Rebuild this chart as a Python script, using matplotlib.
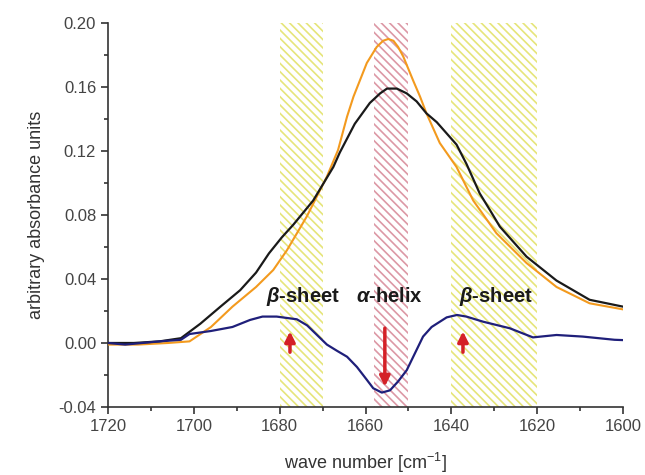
import matplotlib.pyplot as plt
import numpy as np

plt.rcParams['font.family'] = ['Liberation Sans', 'DejaVu Sans']
plt.rcParams['mathtext.fontset'] = 'custom'
plt.rcParams['mathtext.it'] = 'Liberation Sans:italic:bold'
plt.rcParams['mathtext.rm'] = 'Liberation Sans:bold'
plt.rcParams['hatch.linewidth'] = 1.2

# black spectrum
wn_black = [1720, 1714, 1708, 1703, 1698.5, 1693.8, 1689.2, 1685.5, 1682.5, 1679.5, 1676.8,
            1672.2, 1667.5, 1666, 1662.5, 1659, 1656.6, 1655, 1652.7, 1650.4, 1648.1,
            1645.8, 1643.4, 1641.1, 1638.8, 1636.5, 1633.4, 1631, 1628.7, 1622.5,
            1615.5, 1607.8, 1600]
abs_black = [0.0, 0.0, 0.001, 0.003, 0.012, 0.0227, 0.033, 0.044, 0.056, 0.066, 0.074,
             0.089, 0.110, 0.119, 0.137, 0.150, 0.156, 0.159, 0.159, 0.156, 0.151,
             0.1435, 0.138, 0.131, 0.124, 0.112, 0.0935, 0.083, 0.0727, 0.054,
             0.039, 0.027, 0.0227]

# orange spectrum
wn_orange = [1720, 1713, 1706, 1701, 1696, 1691, 1685.5, 1681.5, 1678.3, 1673.7,
             1669, 1666.4, 1664.3, 1662.8, 1659.7, 1657.4, 1655.9, 1654.7, 1653.5,
             1652.4, 1651.2, 1648.9, 1647.3, 1645.8, 1642.7, 1638.8, 1634.9, 1629.5,
             1622.5, 1615.5, 1607.8, 1600]
abs_orange = [-0.001, -0.001, 0.0, 0.001, 0.010, 0.0227, 0.035, 0.0456, 0.058, 0.079,
              0.104, 0.1206, 0.1415, 0.154, 0.175, 0.185, 0.1889, 0.190, 0.1889,
              0.185, 0.179, 0.164, 0.154, 0.1435, 0.125, 0.110, 0.089, 0.0686,
              0.050, 0.035, 0.0248, 0.021]

# difference spectrum (blue)
wn_diff = [1720, 1716, 1708, 1703, 1701, 1696, 1691, 1686.9, 1684, 1680.7, 1676,
           1673.6, 1671.3, 1669, 1666.7, 1664.3, 1662, 1659.7, 1658.2, 1656.2, 1654.3,
           1652.4, 1650.4, 1648.5, 1646.6, 1644.6, 1641.1, 1638.7, 1636.5, 1632.6,
           1626.4, 1621, 1615.5, 1609.4, 1602, 1600]
abs_diff = [0.0, -0.001, 0.001, 0.002, 0.0056, 0.0075, 0.010, 0.0144, 0.0165, 0.0165,
            0.0148, 0.011, 0.005, -0.001, -0.0048, -0.0086, -0.015, -0.023, -0.0283,
            -0.031, -0.0296, -0.024, -0.017, -0.0065, 0.004, 0.010, 0.016, 0.0175,
            0.0165, 0.0133, 0.0092, 0.0035, 0.005, 0.004, 0.002, 0.0018]

bands = [(1680, 1670, '#e6e57a'), (1658, 1650, '#dc98a5'), (1640, 1620, '#e6e57a')]
labels = [r'$\beta$-sheet', r'$\alpha$-helix', r'$\beta$-sheet']
label_x = [1674.5, 1654.5, 1629.5]
label_y = 0.029
arrow_x = [1677.6, 1655.5, 1637.3]
arrow_from = [-0.0075, 0.011, -0.0075]
arrow_to = [0.009, -0.029, 0.009]

fig = plt.figure(figsize=(6.45, 4.75), dpi=100)
ax = fig.add_axes([0.1674, 0.1432, 0.7986, 0.8084])

for x0, x1, c in bands:
    ax.fill_between([x1, x0], -0.04, 0.20, facecolor='none', edgecolor=c,
                    hatch='\\\\\\\\', linewidth=0, zorder=0)

ax.plot(wn_orange, abs_orange, color='#f39a1e', lw=1.5, zorder=3)
ax.plot(wn_black, abs_black, color='#1a1a1a', lw=1.6, zorder=3)
ax.plot(wn_diff, abs_diff, color='#1f1f7a', lw=1.6, zorder=3)

for t, x in zip(labels, label_x):
    ax.text(x, label_y, t, ha='center', va='center', fontsize=14.5,
            fontweight='bold', color='#1a1a1a', zorder=4)

for x, y0, y1 in zip(arrow_x, arrow_from, arrow_to):
    ax.annotate('', xy=(x, y1), xytext=(x, y0),
                arrowprops=dict(arrowstyle='-|>,head_length=0.6,head_width=0.3',
                                color='#d42027', lw=2.5), zorder=4)

ax.set_xlim(1720, 1600)
ax.set_ylim(-0.04, 0.20)
ax.set_xticks(np.arange(1720, 1599, -20))
ax.set_xticks(np.arange(1710, 1600, -20), minor=True)
ax.set_yticks(np.arange(-0.04, 0.201, 0.04))
ax.set_yticks(np.arange(-0.02, 0.20, 0.04), minor=True)
ax.set_yticklabels(['%.2f' % v for v in np.arange(-0.04, 0.201, 0.04)])
ax.spines['top'].set_visible(False)
ax.spines['right'].set_visible(False)
for s in ['left', 'bottom']:
    ax.spines[s].set_linewidth(1.2)
    ax.spines[s].set_color('#333333')
ax.tick_params(which='major', direction='out', length=5, width=1.2, labelsize=12,
               colors='#333333', labelcolor='#444444')
ax.tick_params(which='minor', direction='out', length=3, width=1.2, colors='#333333')
ax.set_xlabel('wave number [cm$^{\\mathregular{-1}}$]', fontsize=13, color='#333333', labelpad=12)
ax.set_ylabel('arbitrary absorbance units', fontsize=13, color='#333333', labelpad=10)

fig.savefig('out.png', dpi=100)
